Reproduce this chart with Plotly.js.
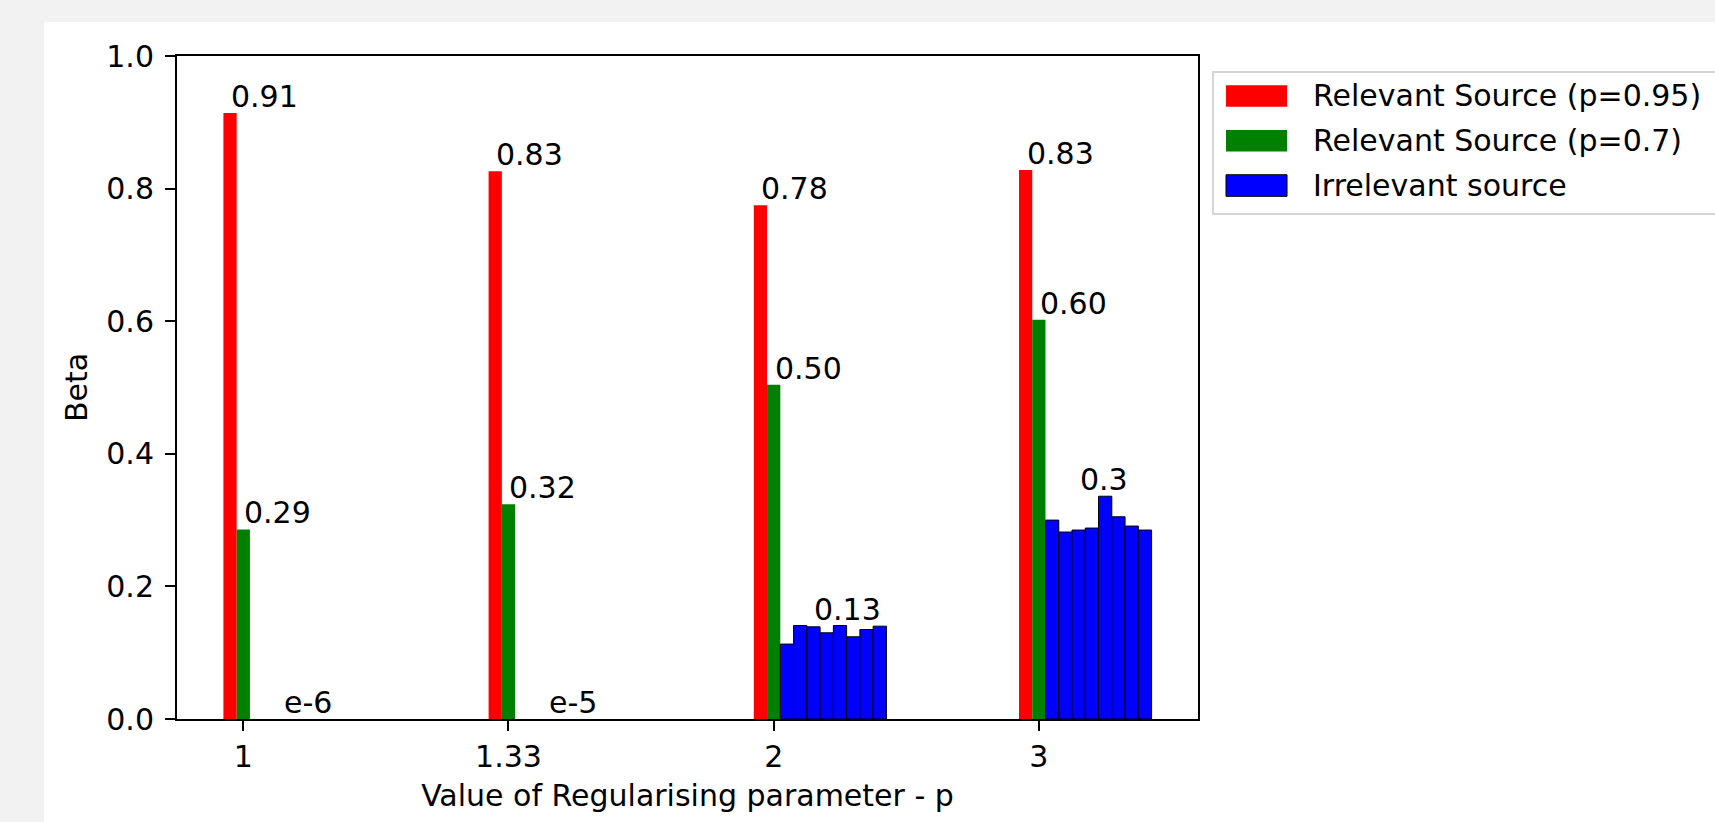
<!DOCTYPE html>
<html>
<head>
<meta charset="utf-8">
<script src="https://cdn.plot.ly/plotly-3.0.1.min.js"></script>
<style>
  html, body { margin: 0; padding: 0; background: #f2f2f2; width: 1715px; height: 822px; overflow: hidden; }
  #chart { position: absolute; left: 44px; top: 22px; width: 1671px; height: 800px; }
</style>
</head>
<body>
<div id="chart"></div>
<script>
// ---- data ----
const categories = ['1', '1.33', '2', '3'];
const relevant095 = [0.914, 0.826, 0.775, 0.828];
const relevant07 = [0.286, 0.324, 0.504, 0.602];
const irrelevant0 = [1e-6, 1e-6, 1e-6, 1e-6, 1e-6, 1e-6, 1e-6, 1e-6];
const irrelevant1 = [1e-5, 1e-5, 1e-5, 1e-5, 1e-5, 1e-5, 1e-5, 1e-5];
const irrelevant2 = [0.113, 0.141, 0.139, 0.130, 0.141, 0.124, 0.135, 0.140];
const irrelevant3 = [0.300, 0.282, 0.285, 0.288, 0.336, 0.305, 0.291, 0.285];
const irrelevantLabels = ['e-6', 'e-5', '0.13', '0.3'];
const seriesNames = ['Relevant Source (p=0.95)', 'Relevant Source (p=0.7)', 'Irrelevant source'];
const seriesColors = ['#ff0000', '#008000', '#0000ff'];

// ---- build ----
const irrelevant = [irrelevant0, irrelevant1, irrelevant2, irrelevant3];
const W = 0.05;
const idx = categories.map((c, i) => i);
const FONT = 'DejaVu Sans, Bitstream Vera Sans, sans-serif';

const blueX = [], blueY = [];
irrelevant.forEach((grp, g) => grp.forEach((v, k) => { blueX.push(g + W * (k + 1)); blueY.push(v); }));
// edges of sub-pixel bars vanish under the axis line (as in the original)
const blueEdge = blueY.map(v => (v < 0.002 ? 0 : 1));

const traces = [
  { type: 'bar', name: seriesNames[0], x: idx.map(i => i - W), y: relevant095, width: W,
    marker: { color: seriesColors[0], line: { width: 0 } }, showlegend: false, hoverinfo: 'y' },
  { type: 'bar', name: seriesNames[1], x: idx, y: relevant07, width: W,
    marker: { color: seriesColors[1], line: { width: 0 } }, showlegend: false, hoverinfo: 'y' },
  { type: 'bar', name: seriesNames[2], x: blueX, y: blueY, width: W,
    marker: { color: seriesColors[2], line: { width: blueEdge, color: '#000' } }, showlegend: false, hoverinfo: 'y' }
];

const annotations = [];
const lbl = (x, y, text) => annotations.push({ x, y, text, xref: 'x', yref: 'y', xanchor: 'left', yanchor: 'bottom',
  showarrow: false, borderpad: 0, yshift: -2, font: { family: FONT, size: 30, color: '#000' } });
idx.forEach(i => {
  lbl(i - W, relevant095[i], relevant095[i].toFixed(2));
  lbl(i, relevant07[i], relevant07[i].toFixed(2));
  lbl(i + 3 * W, Math.max(...irrelevant[i]), irrelevantLabels[i]);
});

// ---- custom legend (matplotlib-style patches) ----
const px2x = p => (p - 177.3) / (1198 - 177.3);
const px2y = p => (719.3 - p) / (719.3 - 56);
const shapes = [
  { type: 'rect', xref: 'paper', yref: 'paper', x0: px2x(1213), x1: px2x(1760), y0: px2y(72), y1: px2y(214),
    line: { color: '#d6d6d6', width: 2 }, fillcolor: 'rgba(255,255,255,0.8)' }
];
const rowY = [96, 140.8, 185.6];
seriesNames.forEach((n, i) => {
  shapes.push({ type: 'rect', xref: 'paper', yref: 'paper', x0: px2x(1226), x1: px2x(1287),
    y0: px2y(rowY[i] - 10.8), y1: px2y(rowY[i] + 10.8), fillcolor: seriesColors[i],
    line: { width: i === 2 ? 1 : 0, color: '#000' } });
  annotations.push({ xref: 'paper', yref: 'paper', x: px2x(1312), y: px2y(rowY[i]), text: n,
    xanchor: 'left', yanchor: 'middle', showarrow: false, borderpad: 0,
    font: { family: FONT, size: 30, color: '#000' } });
});

const axisCommon = { ticks: 'outside', ticklen: 10, tickwidth: 2, tickcolor: '#000', showline: true, linewidth: 2,
  linecolor: '#000', mirror: true, showgrid: false, zeroline: false, automargin: false,
  tickfont: { family: FONT, size: 30, color: '#000' } };

const layout = {
  width: 1671, height: 800,
  margin: { l: 133, r: 517, t: 34, b: 103, pad: 0 },
  paper_bgcolor: '#ffffff', plot_bgcolor: '#ffffff',
  font: { family: FONT, size: 30, color: '#000' },
  barmode: 'overlay', showlegend: false,
  xaxis: Object.assign({}, axisCommon, { range: [-0.25, 3.6], tickmode: 'array', tickvals: idx, ticktext: categories,
    title: { text: 'Value of Regularising parameter - p', font: { family: FONT, size: 30, color: '#000' }, standoff: 12 } }),
  yaxis: Object.assign({}, axisCommon, { range: [0, 1], tickmode: 'linear', tick0: 0, dtick: 0.2, tickformat: '.1f',
    ticklabelstandoff: 5,
    title: { text: 'Beta', font: { family: FONT, size: 30, color: '#000' }, standoff: 10 } }),
  annotations, shapes
};

Plotly.newPlot('chart', traces, layout, { staticPlot: true, displayModeBar: false });
</script>
</body>
</html>
